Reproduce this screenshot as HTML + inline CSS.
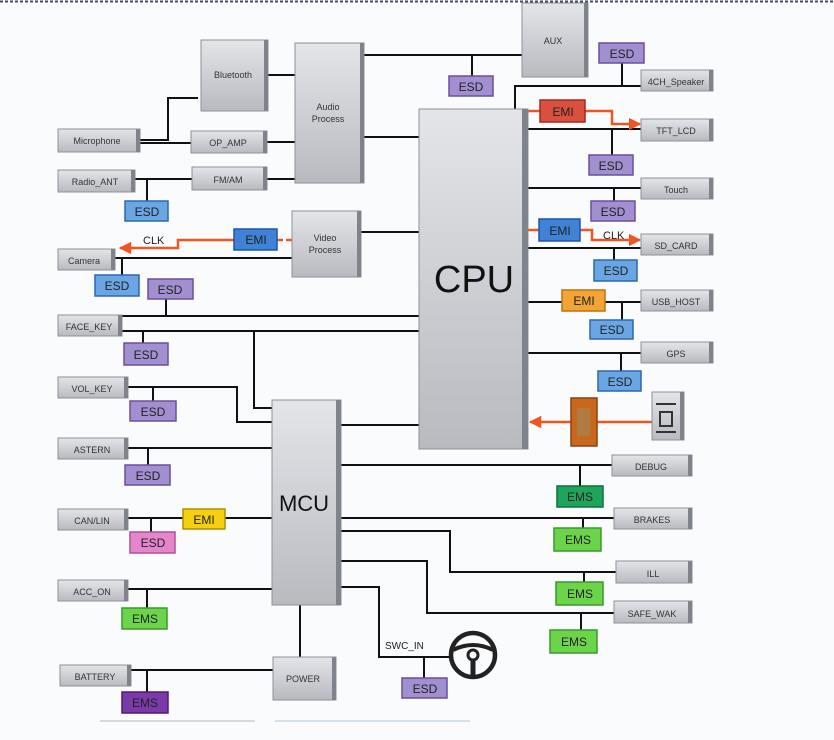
<!DOCTYPE html>
<html><head><meta charset="utf-8"><style>
html,body{margin:0;padding:0;background:#fafbfd;}
svg{display:block;}
text{font-family:"Liberation Sans",sans-serif;}
</style></head><body>
<svg width="834" height="740" viewBox="0 0 834 740" xmlns="http://www.w3.org/2000/svg">
<defs>
<linearGradient id="g" x1="0" y1="0" x2="0" y2="1"><stop offset="0" stop-color="#e4e5e9"/><stop offset="1" stop-color="#b8bac0"/></linearGradient>
<marker id="ar" viewBox="0 0 10 10" refX="9" refY="5" markerWidth="5" markerHeight="5" orient="auto"><path d="M0,0 L10,5 L0,10 z" fill="#ee5522"/></marker>
</defs>
<rect x="0" y="0" width="834" height="740" fill="#fafbfd"/>
<line x1="0" y1="1.5" x2="834" y2="1.5" stroke="#444a66" stroke-width="2" stroke-dasharray="3,2"/>
<line x1="100" y1="721" x2="255" y2="721" stroke="#b0bac4" stroke-width="1"/>
<line x1="275" y1="721" x2="470" y2="721" stroke="#b0c4d4" stroke-width="1"/>

<!-- connectors -->
<g stroke="#111" stroke-width="2" fill="none">
<polyline points="364,55 522,55"/><line x1="472" y1="55" x2="472" y2="76"/>
<line x1="268" y1="75" x2="295" y2="75"/>
<line x1="364" y1="137" x2="419" y2="137"/>
<line x1="361" y1="232" x2="419" y2="232"/>
<polyline points="140,140 168,140 168,98 198,98"/>
<line x1="140" y1="143" x2="191" y2="143"/>
<line x1="267" y1="142" x2="295" y2="142"/>
<line x1="135" y1="179" x2="192" y2="179"/><line x1="147" y1="179" x2="147" y2="201"/>
<line x1="267" y1="179" x2="295" y2="179"/>
<line x1="115" y1="258" x2="292" y2="258"/><line x1="122" y1="258" x2="122" y2="275"/>
<line x1="122" y1="316" x2="419" y2="316"/><line x1="166" y1="299" x2="166" y2="316"/>
<line x1="122" y1="331" x2="419" y2="331"/><line x1="143" y1="331" x2="143" y2="343"/>
<polyline points="254,331 254,408 272,408"/>
<polyline points="128,387 237,387 237,422 272,422"/><line x1="153" y1="387" x2="153" y2="401"/>
<line x1="341" y1="425" x2="419" y2="425"/>
<line x1="128" y1="448" x2="272" y2="448"/><line x1="148" y1="448" x2="148" y2="465"/>
<line x1="128" y1="518" x2="272" y2="518"/><line x1="151" y1="518" x2="151" y2="532"/>
<line x1="128" y1="589" x2="272" y2="589"/><line x1="147" y1="589" x2="147" y2="608"/>
<line x1="131" y1="670" x2="273" y2="670"/><line x1="147" y1="670" x2="147" y2="692"/>
<line x1="300" y1="605" x2="300" y2="657"/>
<polyline points="515,109 515,86 641,86"/><line x1="622" y1="63" x2="622" y2="86"/>
<line x1="528" y1="129" x2="641" y2="129"/><line x1="612" y1="129" x2="612" y2="155"/>
<line x1="528" y1="188" x2="641" y2="188"/><line x1="614" y1="188" x2="614" y2="201"/>
<line x1="528" y1="248" x2="641" y2="248"/><line x1="614" y1="248" x2="614" y2="260"/>
<line x1="528" y1="302" x2="562" y2="302"/><line x1="605" y1="302" x2="641" y2="302"/><line x1="622" y1="302" x2="622" y2="320"/>
<line x1="528" y1="353" x2="641" y2="353"/><line x1="621" y1="353" x2="621" y2="371"/>
<line x1="341" y1="465" x2="612" y2="465"/><line x1="580" y1="465" x2="580" y2="486"/>
<line x1="341" y1="518" x2="614" y2="518"/><line x1="583" y1="518" x2="583" y2="528"/>
<polyline points="341,531 450,531 450,572 616,572"/><line x1="584" y1="572" x2="584" y2="582"/>
<polyline points="341,561 427,561 427,613 614,613"/><line x1="581" y1="613" x2="581" y2="630"/>
<polyline points="341,587 379,587 379,657 449,657"/><line x1="424" y1="657" x2="424" y2="678"/>
</g>
<!-- orange arrows -->
<g stroke="#ee5522" stroke-width="2.5" fill="none">
<polyline points="234,240 178,240 178,248 120,248" marker-end="url(#ar)"/>
<line x1="277" y1="240" x2="292" y2="240" stroke-dasharray="6,3"/>
<line x1="528" y1="111" x2="540" y2="111"/>
<polyline points="585,111 612,111 612,124 640,124" marker-end="url(#ar)"/>
<line x1="528" y1="230" x2="539" y2="230"/>
<polyline points="580,230 592,230 592,240 640,240" marker-end="url(#ar)"/>
<line x1="652" y1="422" x2="530" y2="422" marker-end="url(#ar)"/>
</g>

<!-- grey blocks -->
<g fill="url(#g)" stroke="#8d9096" stroke-width="1">
<rect x="201" y="40" width="67" height="71"/>
<rect x="295" y="43" width="69" height="140"/>
<rect x="522" y="3" width="66" height="74"/>
<rect x="419" y="109" width="109" height="340"/>
<rect x="292" y="211" width="69" height="66"/>
<rect x="272" y="400" width="69" height="205"/>
<rect x="273" y="657" width="63" height="43"/>
<rect x="58" y="129" width="82" height="23"/>
<rect x="191" y="131" width="76" height="22"/>
<rect x="58" y="170" width="77" height="22"/>
<rect x="192" y="167" width="75" height="23"/>
<rect x="58" y="249" width="57" height="21"/>
<rect x="58" y="315" width="64" height="21"/>
<rect x="58" y="377" width="70" height="21"/>
<rect x="58" y="438" width="70" height="21"/>
<rect x="58" y="509" width="70" height="21"/>
<rect x="58" y="580" width="70" height="21"/>
<rect x="60" y="665" width="71" height="21"/>
<rect x="641" y="70" width="72" height="21"/>
<rect x="641" y="119" width="72" height="22"/>
<rect x="641" y="178" width="72" height="21"/>
<rect x="641" y="234" width="72" height="21"/>
<rect x="641" y="290" width="72" height="21"/>
<rect x="641" y="342" width="72" height="21"/>
<rect x="612" y="455" width="80" height="21"/>
<rect x="614" y="508" width="78" height="21"/>
<rect x="616" y="561" width="76" height="22"/>
<rect x="614" y="601" width="78" height="22"/>
<rect x="652" y="392" width="32" height="48"/>
</g>
<!-- bevel right edges -->
<g fill="#7f838b">
<rect x="264" y="40" width="4" height="71"/><rect x="360" y="43" width="4" height="140"/><rect x="584" y="3" width="4" height="74"/>
<rect x="522" y="109" width="6" height="340"/><rect x="357" y="211" width="4" height="66"/><rect x="336" y="400" width="5" height="205"/><rect x="332" y="657" width="4" height="43"/>
<rect x="136" y="129" width="4" height="23"/><rect x="263" y="131" width="4" height="22"/><rect x="131" y="170" width="4" height="22"/><rect x="263" y="167" width="4" height="23"/>
<rect x="111" y="249" width="4" height="21"/><rect x="118" y="315" width="4" height="21"/><rect x="124" y="377" width="4" height="21"/><rect x="124" y="438" width="4" height="21"/><rect x="124" y="509" width="4" height="21"/><rect x="124" y="580" width="4" height="21"/><rect x="127" y="665" width="4" height="21"/>
<rect x="709" y="70" width="4" height="21"/><rect x="709" y="119" width="4" height="22"/><rect x="709" y="178" width="4" height="21"/><rect x="709" y="234" width="4" height="21"/><rect x="709" y="290" width="4" height="21"/><rect x="709" y="342" width="4" height="21"/>
<rect x="688" y="455" width="4" height="21"/><rect x="688" y="508" width="4" height="21"/><rect x="688" y="561" width="4" height="22"/><rect x="688" y="601" width="4" height="22"/><rect x="680" y="392" width="4" height="48"/>
</g>
<g stroke="#333" stroke-width="2" fill="none"><line x1="656" y1="404" x2="676" y2="404"/><rect x="660" y="412" width="12" height="14"/><line x1="656" y1="432" x2="676" y2="432"/></g>

<!-- small colored tags -->
<g stroke-width="1.5">
<rect x="449" y="76" width="44" height="20" fill="#a28fcf" stroke="#6a4fa0"/>
<rect x="599" y="43" width="45" height="20" fill="#a28fcf" stroke="#6a4fa0"/>
<rect x="589" y="155" width="44" height="20" fill="#a28fcf" stroke="#6a4fa0"/>
<rect x="591" y="201" width="44" height="20" fill="#a28fcf" stroke="#6a4fa0"/>
<rect x="148" y="279" width="45" height="20" fill="#a28fcf" stroke="#6a4fa0"/>
<rect x="124" y="343" width="44" height="22" fill="#a28fcf" stroke="#6a4fa0"/>
<rect x="130" y="401" width="46" height="20" fill="#a28fcf" stroke="#6a4fa0"/>
<rect x="125" y="465" width="45" height="20" fill="#a28fcf" stroke="#6a4fa0"/>
<rect x="402" y="678" width="45" height="20" fill="#a28fcf" stroke="#6a4fa0"/>
<rect x="125" y="201" width="43" height="20" fill="#6aa6e4" stroke="#2f66b0"/>
<rect x="95" y="275" width="44" height="21" fill="#6aa6e4" stroke="#2f66b0"/>
<rect x="594" y="260" width="43" height="21" fill="#6aa6e4" stroke="#2f66b0"/>
<rect x="590" y="320" width="43" height="19" fill="#6aa6e4" stroke="#2f66b0"/>
<rect x="598" y="371" width="43" height="20" fill="#6aa6e4" stroke="#2f66b0"/>
<rect x="234" y="229" width="43" height="21" fill="#3f82d6" stroke="#1f55a8"/>
<rect x="539" y="219" width="41" height="22" fill="#3f82d6" stroke="#1f55a8"/>
<rect x="540" y="100" width="45" height="22" fill="#d9503e" stroke="#a02a20"/>
<rect x="562" y="290" width="43" height="21" fill="#f2a535" stroke="#c07010"/>
<rect x="571" y="398" width="26" height="48" fill="#c8681c" stroke="#8a4010"/>
<rect x="183" y="509" width="42" height="20" fill="#f6d010" stroke="#b09000"/>
<rect x="130" y="532" width="45" height="21" fill="#e585cc" stroke="#b0509a"/>
<rect x="557" y="486" width="46" height="21" fill="#1fa45c" stroke="#0f7038"/>
<rect x="554" y="528" width="47" height="23" fill="#6cd44a" stroke="#3a9a2a"/>
<rect x="556" y="582" width="47" height="23" fill="#6cd44a" stroke="#3a9a2a"/>
<rect x="550" y="630" width="47" height="23" fill="#6cd44a" stroke="#3a9a2a"/>
<rect x="122" y="608" width="45" height="21" fill="#6cd44a" stroke="#3a9a2a"/>
<rect x="122" y="692" width="46" height="21" fill="#7a3aa8" stroke="#4e1a78"/>
</g>
<rect x="577" y="408" width="13" height="28" fill="#b07a44"/>

<!-- wheel -->
<g stroke="#222" fill="none">
<circle cx="473" cy="655" r="22" stroke-width="4.5"/>
<path d="M453,650 Q473,640 493,650" stroke-width="4"/>
<line x1="473" y1="660" x2="473" y2="676" stroke-width="5"/>
<circle cx="473" cy="655" r="5" stroke-width="3"/>
</g>

<!-- labels -->
<g font-size="9" fill="#333" text-anchor="middle">
<text x="233" y="78">Bluetooth</text>
<text x="328" y="110">Audio</text><text x="328" y="122">Process</text>
<text x="553" y="44">AUX</text>
<text x="325" y="241">Video</text><text x="325" y="253">Process</text>
<text x="97" y="144">Microphone</text>
<text x="228" y="146">OP_AMP</text>
<text x="95" y="185">Radio_ANT</text>
<text x="228" y="183">FM/AM</text>
<text x="84" y="264">Camera</text>
<text x="89" y="330">FACE_KEY</text>
<text x="92" y="392">VOL_KEY</text>
<text x="92" y="453">ASTERN</text>
<text x="92" y="524">CAN/LIN</text>
<text x="92" y="595">ACC_ON</text>
<text x="95" y="680">BATTERY</text>
<text x="303" y="682">POWER</text>
<text x="676" y="85">4CH_Speaker</text>
<text x="676" y="134">TFT_LCD</text>
<text x="676" y="193">Touch</text>
<text x="676" y="249">SD_CARD</text>
<text x="676" y="305">USB_HOST</text>
<text x="676" y="357">GPS</text>
<text x="651" y="470">DEBUG</text>
<text x="652" y="523">BRAKES</text>
<text x="653" y="577">ILL</text>
<text x="652" y="617">SAFE_WAK</text>
</g>
<g font-size="12" fill="#222" text-anchor="middle">
<text x="471" y="91">ESD</text><text x="622" y="58">ESD</text><text x="611" y="170">ESD</text><text x="613" y="216">ESD</text>
<text x="170" y="294">ESD</text><text x="146" y="359">ESD</text><text x="153" y="416">ESD</text><text x="148" y="480">ESD</text><text x="425" y="693">ESD</text>
<text x="147" y="216">ESD</text><text x="117" y="290">ESD</text><text x="616" y="275">ESD</text><text x="612" y="334">ESD</text><text x="620" y="386">ESD</text>
<text x="256" y="244">EMI</text><text x="560" y="235">EMI</text><text x="563" y="116">EMI</text><text x="584" y="305">EMI</text><text x="204" y="524">EMI</text>
<text x="153" y="547">ESD</text><text x="580" y="501">EMS</text><text x="578" y="544">EMS</text><text x="580" y="598">EMS</text><text x="574" y="646">EMS</text><text x="145" y="623">EMS</text><text x="145" y="707">EMS</text>
</g>
<g font-size="11" fill="#222">
<text x="143" y="244">CLK</text>
<text x="603" y="239">CLK</text>
<text x="385" y="649" font-size="10">SWC_IN</text>
</g>
<text x="474" y="292" font-size="38" fill="#111" text-anchor="middle">CPU</text>
<text x="304" y="511" font-size="22" fill="#111" text-anchor="middle">MCU</text>
</svg>
</body></html>
